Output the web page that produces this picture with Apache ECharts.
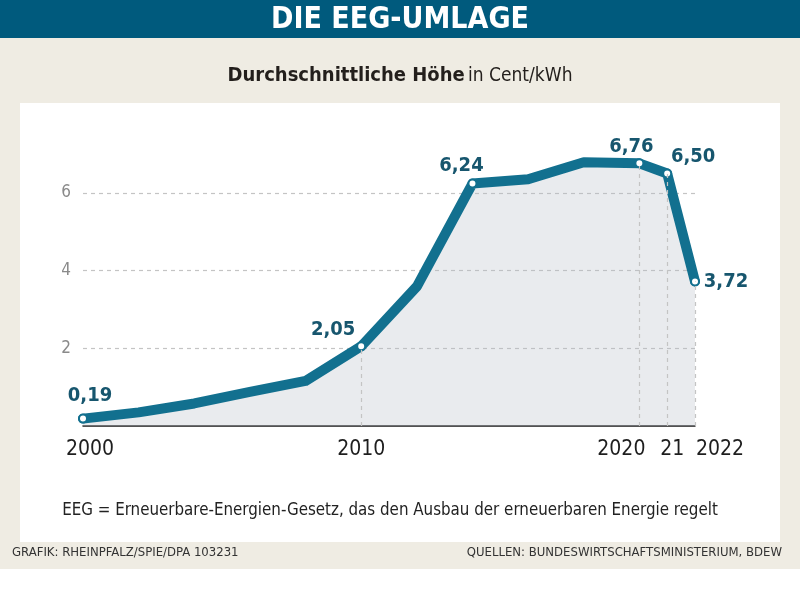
<!DOCTYPE html>
<html><head><meta charset="utf-8">
<script src="https://cdn.jsdelivr.net/npm/echarts@6/dist/echarts.min.js"></script>
<style>html,body{margin:0;padding:0;background:#fff}#c{width:800px;height:608px}</style>
</head><body><div id="c"></div>
<script>
const years = [2000, 2002, 2004, 2006, 2008, 2010, 2012, 2014, 2016, 2018, 2020, 2021, 2022];
const values = [0.19, 0.35, 0.58, 0.88, 1.16, 2.05, 3.59, 6.24, 6.35, 6.79, 6.76, 6.50, 3.72];
const labeledYears = [2000, 2010, 2014, 2020, 2021, 2022];
const dropLineYears = [2010, 2020, 2021, 2022];
const xTickYears = [2000, 2010, 2020, 2021, 2022];
const xTickLabels = ['2000', '2010', '2020', '21', '2022'];
const yTicks = [2, 4, 6];

const titleText = 'DIE EEG-UMLAGE';
const subtitleBold = 'Durchschnittliche Höhe';
const subtitleRegular = 'in Cent/kWh';
const noteText = 'EEG = Erneuerbare-Energien-Gesetz, das den Ausbau der erneuerbaren Energie regelt';
const creditText = 'GRAFIK: RHEINPFALZ/SPIE/DPA 103231';
const sourceText = 'QUELLEN: BUNDESWIRTSCHAFTSMINISTERIUM, BDEW';

// styling
const F = '"DejaVu Sans Condensed", "DejaVu Sans", sans-serif';
const FN = '"Liberation Sans Narrow", "DejaVu Sans Condensed", sans-serif';
const teal = '#12708f';
const labelTeal = '#17566e';
const labelOffsets = {2000: [7, -23], 2010: [-28, -17], 2014: [-11, -18], 2020: [-8, -17], 2021: [26, -17], 2022: [31, 0]};
const xLabelRich = {2000: 'a', 2010: 'b', 2020: 'c', 2021: 'd', 2022: 'e'};

const fmt = v => v.toFixed(2).replace('.', ',');

const seriesData = years.map((y, i) => {
  const lab = labeledYears.indexOf(y) >= 0;
  return {
    value: [y, values[i]],
    symbol: lab ? 'circle' : 'none',
    label: lab ? {show: true, position: 'inside', offset: labelOffsets[y], formatter: fmt(values[i])} : {show: false}
  };
});

const dropLines = dropLineYears.map(y => {
  const v = values[years.indexOf(y)];
  return [{coord: [y, 0]}, {coord: [y, v]}];
});

const chart = echarts.init(document.getElementById('c'), null, {renderer: 'canvas'});
chart.setOption({
  backgroundColor: '#ffffff',
  animation: false,
  graphic: [
    {type: 'rect', shape: {x: 0, y: 0, width: 800, height: 38}, style: {fill: '#005a7d'}, z: -10},
    {type: 'rect', shape: {x: 0, y: 38, width: 800, height: 531}, style: {fill: '#efece3'}, z: -10},
    {type: 'rect', shape: {x: 20, y: 103, width: 760, height: 439}, style: {fill: '#ffffff'}, z: -9},
    {type: 'text', x: 400, y: 20, style: {text: titleText, fill: '#ffffff', font: 'bold 30px ' + F, textAlign: 'center', textVerticalAlign: 'middle'}, z: 5},
    {type: 'text', x: 400, y: 76, style: {text: '{b|' + subtitleBold + '} {r|' + subtitleRegular + '}', textAlign: 'center', textVerticalAlign: 'middle',
      rich: {b: {font: 'bold 20px ' + F, fill: '#231f1c'}, r: {font: '19px ' + F, fill: '#231f1c'}}}, z: 5},
    {type: 'text', x: 390, y: 511, style: {text: noteText, fill: '#222222', font: '16.8px ' + F, textAlign: 'center', textVerticalAlign: 'middle'}, z: 5},
    {type: 'text', x: 12, y: 553, style: {text: creditText, fill: '#333333', font: '13px ' + FN, textAlign: 'left', textVerticalAlign: 'middle'}, z: 5},
    {type: 'text', x: 782, y: 553, style: {text: sourceText, fill: '#333333', font: '13px ' + FN, textAlign: 'right', textVerticalAlign: 'middle'}, z: 5}
  ],
  grid: {left: 83, right: 105, top: 154, bottom: 182, containLabel: false},
  xAxis: {
    type: 'value', min: 2000, max: 2022, interval: 1,
    axisLine: {show: true, onZero: true, lineStyle: {color: '#1a1a1a', width: 1.5}},
    axisTick: {show: false},
    splitLine: {show: false},
    axisLabel: {
      margin: 13,
      formatter: v => {
        const k = xTickYears.indexOf(v);
        return k >= 0 ? '{' + xLabelRich[v] + '|' + xTickLabels[k] + '}' : '';
      },
      rich: {
        a: {fontFamily: F, fontSize: 21, color: '#1e1e1e', padding: [0, 0, 0, 14]},
        b: {fontFamily: F, fontSize: 21, color: '#1e1e1e'},
        c: {fontFamily: F, fontSize: 21, color: '#1e1e1e', padding: [0, 36, 0, 0]},
        d: {fontFamily: F, fontSize: 21, color: '#1e1e1e', padding: [0, 0, 0, 10]},
        e: {fontFamily: F, fontSize: 21, color: '#1e1e1e', padding: [0, 0, 0, 50]}
      }
    }
  },
  yAxis: {
    type: 'value', min: 0, max: 7, interval: 2,
    axisLine: {show: false}, axisTick: {show: false},
    axisLabel: {
      margin: 12, fontFamily: F, fontSize: 17, color: '#8a8a8a', showMaxLabel: false,
      formatter: v => yTicks.indexOf(v) >= 0 ? String(v) : ''
    },
    splitLine: {show: true, showMaxLine: false, showMinLine: false, lineStyle: {color: '#c4c4c4', type: [4, 4], width: 1.2}}
  },
  series: [{
    type: 'line',
    data: seriesData,
    symbolSize: 8,
    itemStyle: {color: '#ffffff', borderColor: teal, borderWidth: 2},
    lineStyle: {color: teal, width: 10, cap: 'round', join: 'round'},
    areaStyle: {color: 'rgba(180,188,196,0.42)', origin: 'start'},
    label: {fontFamily: F, fontWeight: 'bold', fontSize: 20, color: labelTeal},
    z: 3,
    markLine: {
      silent: true, symbol: 'none', label: {show: false},
      lineStyle: {color: '#c4c4c4', type: [4, 4], width: 1.2},
      data: dropLines
    }
  }]
});
</script></body></html>
